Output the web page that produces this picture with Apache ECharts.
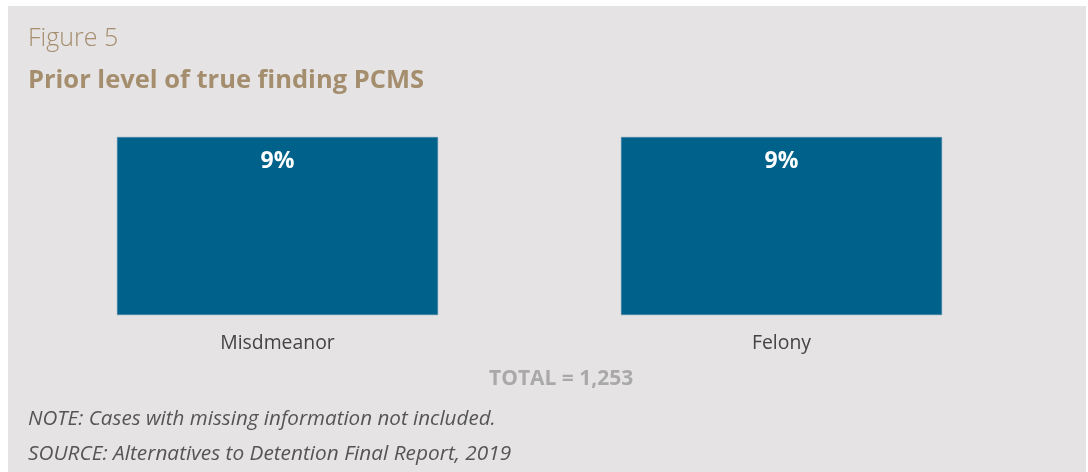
<!DOCTYPE html>
<html>
<head>
<meta charset="utf-8">
<script src="https://cdn.jsdelivr.net/npm/echarts@6/dist/echarts.min.js"></script>
<style>
  html, body { margin: 0; padding: 0; background: #ffffff; }
  #chart { position: absolute; left: 8px; top: 6px; width: 1078px; height: 466px; }
</style>
</head>
<body>
<div id="chart"></div>
<script>
// data
var categories = ['Misdmeanor', 'Felony'];
var values = [9, 9];
var valueLabels = ['9%', '9%'];
var totalText = 'TOTAL = 1,253';

var chart = echarts.init(document.getElementById('chart'));

var option = {
  backgroundColor: '#e5e3e3',
  animation: false,
  textStyle: { fontFamily: 'Open Sans' },
  grid: { left: 17.5, right: 52.5, top: 131, bottom: 157 },
  xAxis: {
    type: 'category',
    data: categories,
    axisLine: { show: false },
    axisTick: { show: false },
    axisLabel: { color: '#444444', fontSize: 19.4, margin: 19, fontFamily: 'Open Sans' }
  },
  yAxis: {
    type: 'value',
    min: 0,
    max: 9,
    show: false
  },
  series: [{
    type: 'bar',
    data: values,
    barWidth: 321,
    itemStyle: { color: '#00628b', borderColor: '#4f8fae', borderWidth: 0.5 },
    label: {
      show: true,
      position: 'insideTop',
      distance: 13,
      color: '#ffffff',
      fontSize: 23,
      fontWeight: 'bold',
      fontFamily: 'Open Sans',
      formatter: function (p) { return valueLabels[p.dataIndex]; }
    }
  }],
  graphic: [
    { type: 'text', left: 20, top: 20, style: { text: 'Figure 5', fill: '#a48e6e', font: '300 25px "Open Sans"' } },
    { type: 'text', left: 20, top: 62, style: { text: 'Prior level of true finding PCMS', fill: '#a48e6e', font: 'bold 25.5px "Open Sans"' } },
    { type: 'text', left: 481, top: 363, style: { text: totalText, fill: '#a9a9a9', font: 'bold 21px "Open Sans"' } },
    { type: 'text', left: 20, top: 403, style: { text: 'NOTE: Cases with missing information not included.', fill: '#555555', font: 'italic 20.6px "Open Sans"' } },
    { type: 'text', left: 20, top: 438, style: { text: 'SOURCE: Alternatives to Detention Final Report, 2019', fill: '#555555', font: 'italic 20.8px "Open Sans"' } }
  ]
};

chart.setOption(option);
</script>
</body>
</html>
